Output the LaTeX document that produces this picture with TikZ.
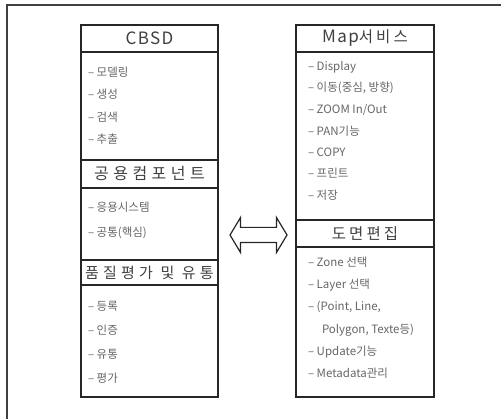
\documentclass[tikz,border=0pt]{standalone}
\usepackage{fontspec}
\setmainfont{Noto Sans CJK KR}
\newfontfamily\hdrfont[LetterSpace=20]{Noto Sans CJK KR}
\newfontfamily\latinfont[LetterSpace=8]{Noto Sans CJK KR}
\newfontfamily\widefont[LetterSpace=28]{Noto Sans CJK KR}
\usetikzlibrary{positioning,shapes.arrows}

\begin{document}
\begin{tikzpicture}[x=1pt, y=-1pt,
        every node/.append style={outer sep=0pt},
        frame/.style={draw=black!75, line width=2.2pt},
        box/.style={draw=black!85, line width=1.4pt, inner sep=0pt}]
      \tikzstyle{hdr} = [box, minimum height=27pt, font=\hdrfont\fontsize{15.5}{15.5}\selectfont, text=black!75]
      \tikzstyle{item} = [anchor=west, inner sep=0pt, font=\fontsize{11.5}{11.5}\selectfont, text=black!60]
      \useasboundingbox (0,0) rectangle (501,419);
      \draw[frame] (7,419) -- (7,5) -- (501,5);
      % left column
      \node (CBSD) [hdr, minimum width=137pt, font=\latinfont\fontsize{17}{17}\selectfont] at (149.5,38.5) {CBSD};
      \node (CBSDlist) [box, minimum width=137pt, minimum height=108pt, below=0pt of CBSD] {};
      \node (Common) [hdr, minimum width=137pt, minimum height=28pt, below=0pt of CBSDlist, font=\widefont\fontsize{16}{16}\selectfont] {공용컴포넌트};
      \node (Commonlist) [box, minimum width=137pt, minimum height=72pt, below=0pt of Common] {};
      \node (Quality) [hdr, minimum width=137pt, minimum height=25pt, below=0pt of Commonlist, font=\widefont\fontsize{15}{15}\selectfont] {품질평가 및 유통};
      \node (Qualitylist) [box, minimum width=137pt, minimum height=112pt, below=0pt of Quality] {};
      \foreach \t [count=\i] in {모델링, 생성, 검색, 추출}
        \node (cb\i) [item] at (88, 72+22.4*\i-22.4) {– \t};
      \node (co1) [item] at (88,207) {– 응용시스템};
      \node (co2) [item] at (88,233) {– 공통(핵심)};
      \foreach \t [count=\i] in {등록, 인증, 유통, 평가}
        \node (qu\i) [item] at (88, 306+24*\i-24) {– \t};
      % right column
      \node (Map) [hdr, minimum width=138pt] at (365,38.5) {{\latinfont\fontsize{17}{17}\selectfont Map}서비스};
      \node (Maplist) [box, minimum width=138pt, minimum height=168pt, below=0pt of Map] {};
      \node (Drawing) [hdr, minimum width=138pt, below=0pt of Maplist] {도면편집};
      \node (Drawinglist) [box, minimum width=138pt, minimum height=150pt, below=0pt of Drawing] {};
      \foreach \t [count=\i] in {Display, {이동(중심, 방향)}, ZOOM In/Out, PAN기능, COPY, 프린트, 저장}
        \node (ma\i) [item] at (308, 67+21.3*\i-21.3) {– \t};
      \node (dr1) [item] at (308,262) {– Zone 선택};
      \node (dr2) [item] at (308,285) {– Layer 선택};
      \node (dr3) [item] at (308,307) {– (Point, Line,};
      \node (dr4) [item] at (322,330) {Polygon, Texte등)};
      \node (dr5) [item] at (308,352) {– Update기능};
      \node (dr6) [item] at (308,373) {– Metadata관리};
      % link between the two columns
      \node (link) [double arrow, draw=black!85, line width=1.2pt, inner xsep=0pt, inner ysep=7pt,
        double arrow head extend=10pt, double arrow tip angle=118, minimum height=57pt] at (258.5,235) {};
    \end{tikzpicture}
\end{document}
